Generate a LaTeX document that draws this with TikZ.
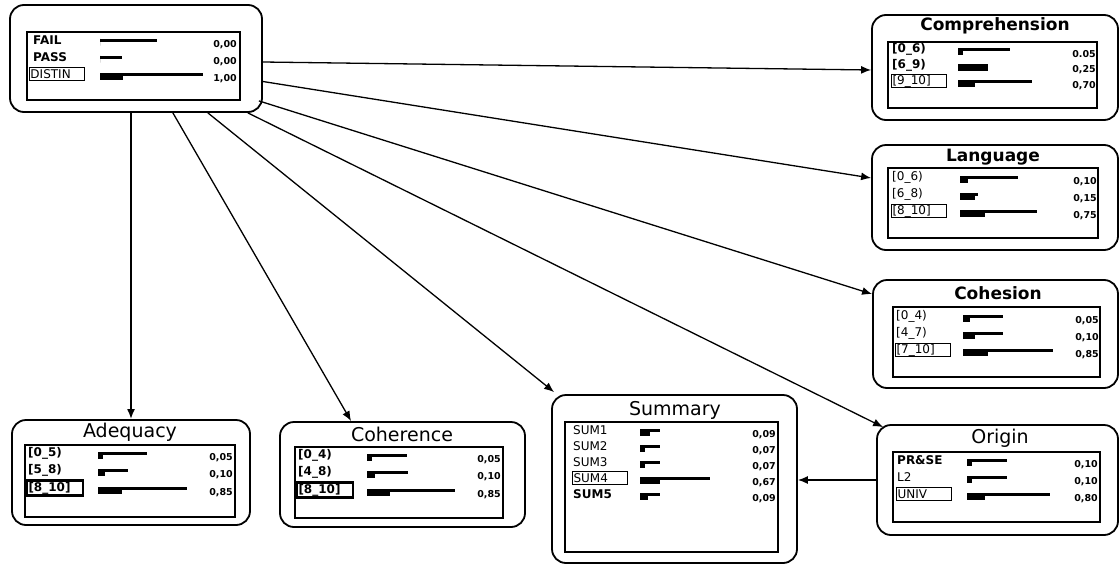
\documentclass[tikz,border=0pt]{standalone}
\usepackage{fontspec}
\setmainfont{DejaVu Sans}
\usetikzlibrary{arrows.meta,fit}
\tikzset{
  panel/.style={draw, line width=1.8pt, rounded corners=14pt, inner sep=0pt},
  innerbox/.style={draw, line width=1.3pt, inner sep=0pt},
  ttl/.style={font=\fontsize{19}{19}\selectfont, inner sep=0pt},
  ttlb/.style={font=\fontsize{17}{17}\selectfont\bfseries, inner sep=0pt},
  lab/.style={anchor=west, font=\fontsize{12}{12}\selectfont\bfseries, inner sep=0pt},
  boxed/.style={draw, line width=1pt, text width=53pt, minimum height=13pt, inner sep=1pt, anchor=west},
  heavy/.style={line width=2.2pt},
  val/.style={anchor=east, font=\fontsize{9.5}{9.5}\selectfont\bfseries, inner sep=0pt},
  arr/.style={line width=1.3pt, -{Latex[length=10pt,width=8pt]}},
}
\newcommand\brow[9]{%
  \node[lab] (#1l) at (#2,#3) {#4};
  \fill (#5,#3-1.5) rectangle (#7,#3+2);
  \fill (#5,#3-1.5) rectangle (#6,#3+5.5);
  \node[val] (#1v) at (#8,#3+5) {#9};
}
\newcommand\browb[9]{%
  \node[lab,boxed] (#1l) at (#2,#3) {#4};
  \fill (#5,#3-1.5) rectangle (#7,#3+2);
  \fill (#5,#3-1.5) rectangle (#6,#3+5.5);
  \node[val] (#1v) at (#8,#3+5) {#9};
}
\begin{document}
\begin{tikzpicture}[x=1pt,y=-1pt]
\useasboundingbox (0,0) rectangle (1119,565);
% ---------- top node
\node[panel, fit={(10,5) (262,112)}] (top) {};
\node[innerbox, fit={(27,32) (240,100)}] (topin) {};
\brow{t1}{33}{40}{FAIL}{100}{100}{157}{237}{0,00}
\brow{t2}{33}{57}{PASS}{100}{100}{122}{237}{0,00}
\browb{t3}{29}{74}{\mdseries DISTIN}{100}{123}{203}{237}{1,00}
% ---------- Comprehension
\node[panel, fit={(872,15) (1118,120)}] (comp) {};
\node[ttlb] (compt) at (995,26) {Comprehension};
\node[innerbox, fit={(888,42) (1097,108)}] (compin) {};
\brow{c1}{892}{49}{[0\_6)}{958}{963}{1010}{1096}{0.05}
\brow{c2}{892}{65}{[6\_9)}{958}{988}{988}{1096}{0,25}
\browb{c3}{891}{81}{\mdseries [9\_10]}{958}{975}{1032}{1096}{0,70}
% ---------- Language
\node[panel, fit={(872,145) (1118,250)}] (lang) {};
\node[ttlb] (langt) at (993,157) {Language};
\node[innerbox, fit={(888,168) (1098,238)}] (langin) {};
\brow{l1}{892}{177}{\mdseries[0\_6)}{960}{968}{1018}{1097}{0,10}
\brow{l2}{892}{194}{\mdseries[6\_8)}{960}{975}{978}{1097}{0,15}
\browb{l3}{891}{211}{\mdseries [8\_10]}{960}{985}{1037}{1097}{0,75}
% ---------- Cohesion
\node[panel, fit={(873,280) (1118,388)}] (coh) {};
\node[ttlb] (coht) at (998,293) {Cohesion};
\node[innerbox, fit={(893,307) (1100,377)}] (cohin) {};
\brow{h1}{896}{316}{\mdseries[0\_4)}{963}{970}{1003}{1099}{0,05}
\brow{h2}{896}{333}{\mdseries[4\_7)}{963}{975}{1003}{1099}{0,10}
\browb{h3}{895}{350}{\mdseries [7\_10]}{963}{988}{1053}{1099}{0,85}
% ---------- Adequacy
\node[panel, fit={(12,420) (250,525)}] (adeq) {};
\node[ttl] (adeqt) at (130,432) {Adequacy};
\node[innerbox, fit={(25,445) (235,517)}] (adeqin) {};
\brow{a1}{28}{453}{[0\_5)}{98}{103}{147}{233}{0,05}
\brow{a2}{28}{470}{[5\_8)}{98}{105}{128}{233}{0,10}
\browb{a3}{27}{488}{[8\_10]}{98}{122}{187}{233}{0,85}
% ---------- Coherence
\node[panel, fit={(280,422) (525,527)}] (coher) {};
\node[ttl] (cohert) at (402,434) {Coherence};
\node[innerbox, fit={(295,447) (503,518)}] (coherin) {};
\brow{r1}{298}{455}{[0\_4)}{367}{372}{407}{501}{0,05}
\brow{r2}{298}{472}{[4\_8)}{367}{375}{408}{501}{0,10}
\browb{r3}{297}{490}{[8\_10]}{367}{390}{455}{501}{0,85}
\draw[heavy] (a3l.north west) rectangle (a3l.south east);
\draw[heavy] (r3l.north west) rectangle (r3l.south east);
% ---------- Summary
\node[panel, fit={(552,395) (797,563)}] (sum) {};
\node[ttl] (sumt) at (675,410) {Summary};
\node[innerbox, fit={(565,422) (778,552)}] (sumin) {};
\brow{s1}{573}{430}{\mdseries SUM1}{640}{650}{660}{776}{0,09}
\brow{s2}{573}{446}{\mdseries SUM2}{640}{645}{660}{776}{0,07}
\brow{s3}{573}{462}{\mdseries SUM3}{640}{645}{660}{776}{0,07}
\browb{s4}{572}{478}{\mdseries SUM4}{640}{660}{710}{776}{0,67}
\brow{s5}{573}{494}{SUM5}{640}{648}{660}{776}{0,09}
% ---------- Origin
\node[panel, fit={(877,425) (1118,535)}] (orig) {};
\node[ttl] (origt) at (1000,438) {Origin};
\node[innerbox, fit={(893,452) (1100,522)}] (origin) {};
\brow{o1}{897}{460}{PR\&SE}{967}{972}{1007}{1098}{0,10}
\brow{o2}{897}{477}{\mdseries L2}{967}{972}{1007}{1098}{0,10}
\browb{o3}{896}{494}{\mdseries UNIV}{967}{985}{1050}{1098}{0,80}
% ---------- connectors
\draw[arr] ([yshift=-3.5pt]top.east) -- ([yshift=-2.5pt]comp.west);
\draw[arr] ([yshift=-23pt]top.east) -- ([yshift=19.5pt]lang.west);
\draw[arr] ([xshift=-4pt,yshift=12pt]top.south east) -- ([yshift=-15pt]coh.north west);
\draw[arr] ([xshift=-15pt]top.south east) -- ([xshift=7pt,yshift=-3pt]orig.north west);
\draw[arr] ([xshift=-55pt]top.south east) -- ([xshift=3pt,yshift=2pt]sum.north west);
\draw[arr] ([xshift=-90pt]top.south east) -- ([xshift=72pt]coher.north west);
\draw[arr, line width=1.8pt] (adeq.north |- top.south) -- (adeq.north);
\draw[arr] (orig.west) -- (orig.west -| sum.east);
\end{tikzpicture}
\end{document}
